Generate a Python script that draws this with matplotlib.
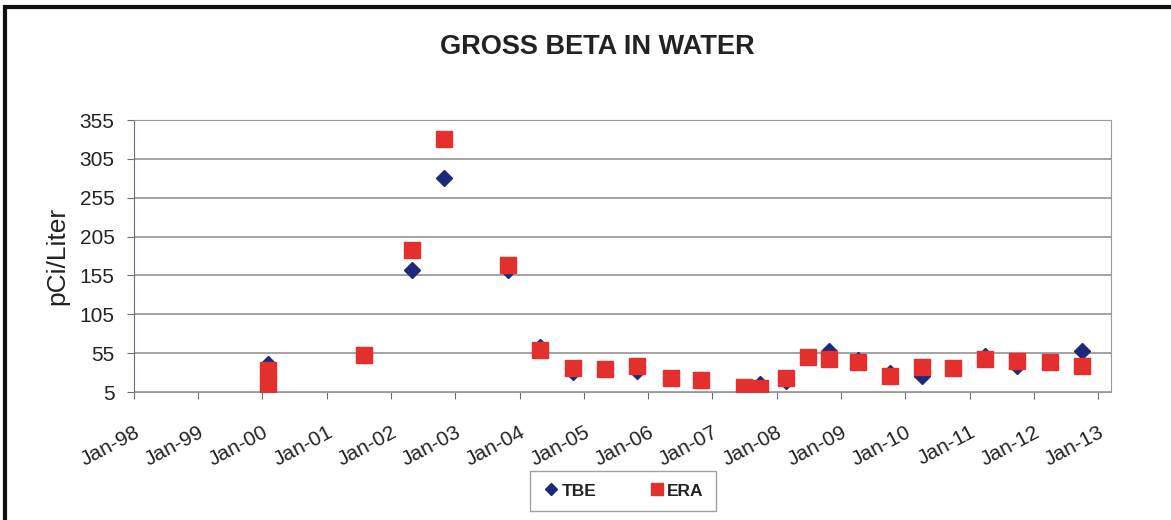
import pandas as pd
import numpy as np
import matplotlib
matplotlib.use('Agg')
import matplotlib.pyplot as plt
import matplotlib.dates as mdates
from matplotlib.patches import Rectangle

plt.rcParams['font.family'] = ['Liberation Sans', 'DejaVu Sans']

# Datas de amostragem e valores (pCi/Liter)
tbe_dates = ['2000-01-30', '2001-07-30', '2002-04-27', '2002-10-30', '2003-10-30',
             '2004-04-27', '2004-10-30', '2005-05-01', '2005-10-30', '2006-05-08',
             '2006-10-30', '2007-07-01', '2007-10-01', '2008-02-24', '2008-06-28',
             '2008-10-27', '2009-04-06', '2009-10-04', '2010-04-06', '2010-10-01',
             '2011-03-30', '2011-09-27', '2012-04-05', '2012-10-01']
tbe_values = [41, 52, 162, 281, 162, 63, 31, 34, 32, 23, 21, 11, 15, 19, 50,
              58, 46, 30, 26, 36, 51, 38, 43, 58]

era_dates = ['2000-01-30', '2000-01-30', '2001-07-30', '2002-04-27', '2002-10-30',
             '2003-10-30', '2004-04-27', '2004-10-30', '2005-05-01', '2005-10-30',
             '2006-05-08', '2006-10-30', '2007-07-01', '2007-10-01', '2008-02-24',
             '2008-06-28', '2008-10-27', '2009-04-06', '2009-10-04', '2010-04-06',
             '2010-10-01', '2011-03-30', '2011-09-27', '2012-04-05', '2012-10-01']
era_values = [33, 15, 52, 188, 330, 168, 59, 36, 34, 38, 23, 21, 11, 10, 23,
              50, 48, 43, 26, 37, 36, 48, 45, 43, 38]

y_ticks = list(range(5, 356, 50))

fig = plt.figure(figsize=(11.71, 5.2), dpi=100)
ax = fig.add_axes([134 / 1171, 1 - 392 / 520, (1111 - 134) / 1171, (392 - 120) / 520])

# Moldura exterior do grafico
frame = Rectangle((5 / 1171, -0.5), 2, 1.5 - 7 / 520, transform=fig.transFigure,
                  fill=False, edgecolor='#111111', linewidth=3, clip_on=False)
fig.patches.append(frame)

ax.plot(pd.to_datetime(tbe_dates), tbe_values, linestyle='none', marker='D',
        markersize=8, color='#1C2A7C', label='TBE', zorder=3)
ax.plot(pd.to_datetime(era_dates), era_values, linestyle='none', marker='s',
        markersize=11, color='#E3302C', label='ERA', zorder=4)

ax.set_ylim(5, 355)
ax.set_yticks(y_ticks)
ax.set_xlim(pd.Timestamp('1998-01-01'), pd.Timestamp('2013-03-15'))
ax.xaxis.set_major_locator(mdates.YearLocator())
ax.xaxis.set_major_formatter(mdates.DateFormatter('%b-%y'))

ax.grid(axis='y', color='#8a8a8a', linewidth=1.1)
ax.set_axisbelow(True)
for side in ['top', 'right', 'bottom']:
    ax.spines[side].set_color('#9a9a9a')
ax.spines['left'].set_color('#6a6a80')
ax.tick_params(axis='both', direction='out', length=5, color='#6a6a80',
               labelsize=15, labelcolor='#222222')
ax.tick_params(axis='y', pad=9)
ax.tick_params(axis='x', pad=17)
for lbl in ax.get_xticklabels():
    lbl.set_rotation(28)
    lbl.set_ha('right')
    lbl.set_rotation_mode('anchor')

ax.set_ylabel('pCi/Liter', fontsize=19, color='#222222')
ax.yaxis.set_label_coords(-0.066, 0.5)

fig.text(597 / 1171, 1 - 47 / 520, 'GROSS BETA IN WATER', ha='center', va='center',
         fontsize=19.5, fontweight='bold', color='#222222')

leg = fig.legend(loc='center', bbox_to_anchor=(623 / 1171, 1 - 491 / 520), ncol=2,
                 frameon=True, fancybox=False, edgecolor='#8a8a8a',
                 prop={'weight': 'bold', 'size': 12.5}, handletextpad=0.1,
                 columnspacing=3.0, borderpad=0.7, handlelength=1.0,
                 markerscale=0.75)
for t in leg.get_texts():
    t.set_color('#222222')

fig.savefig('out.png', dpi=100)
